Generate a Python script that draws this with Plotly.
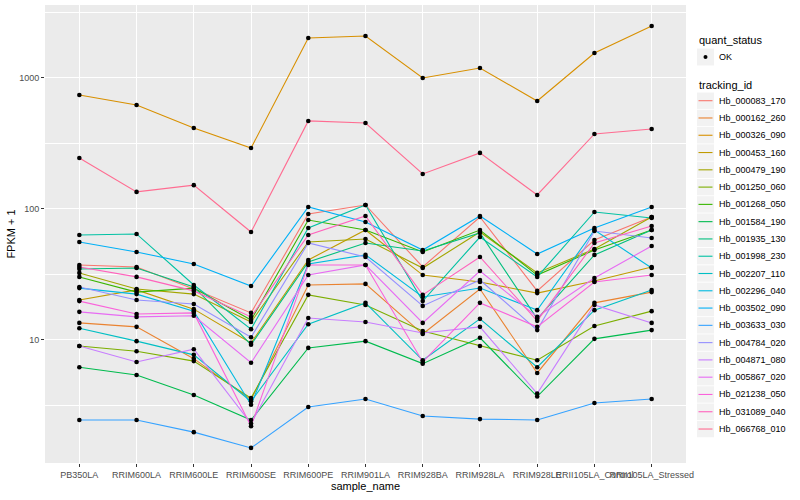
import plotly.graph_objects as go

samples = ["PB350LA", "RRIM600LA", "RRIM600LE", "RRIM600SE", "RRIM600PE",
           "RRIM901LA", "RRIM928BA", "RRIM928LA", "RRIM928LE",
           "RRII105LA_Control", "RRII105LA_Stressed"]

tracking_ids = ["Hb_000083_170", "Hb_000162_260", "Hb_000326_090", "Hb_000453_160",
                "Hb_000479_190", "Hb_001250_060", "Hb_001268_050", "Hb_001584_190",
                "Hb_001935_130", "Hb_001998_230", "Hb_002207_110", "Hb_002296_040",
                "Hb_003502_090", "Hb_003633_030", "Hb_004784_020", "Hb_004871_080",
                "Hb_005867_020", "Hb_021238_050", "Hb_031089_040", "Hb_066768_010"]

colors = ["#F8766D", "#EA8331", "#D89000", "#C09B00", "#A3A500", "#7CAE00",
          "#39B600", "#00BB4E", "#00BF7D", "#00C1A3", "#00BFC4", "#00BAE0",
          "#00B0F6", "#35A2FF", "#9590FF", "#C77CFF", "#E76BF3", "#FA62DB",
          "#FF62BC", "#FF6C91"]

# FPKM + 1 values, one list per tracking_id (order of samples)
hb_000083_170 = [37.4, 36.1, 24.5, 16.1, 91.6, 107.3, 36.1, 86.9, 23.7, 58.0, 86.9]
hb_000162_260 = [13.5, 12.6, 7.2, 3.5, 26.3, 26.8, 11.1, 24.5, 5.6, 19.2, 23.2]
hb_000326_090 = [741, 622, 415, 292, 2019, 2092, 1000, 1192, 667, 1552, 2495]
hb_000453_160 = [20.2, 24.1, 17.2, 9.5, 40.8, 69.1, 31.3, 27.7, 22.8, 28.2, 36.1]
hb_000479_190 = [32.5, 24.5, 22.4, 13.7, 56.0, 59.0, 35.4, 66.7, 32.5, 49.5, 86.9]
hb_001250_060 = [9.0, 8.2, 6.9, 3.6, 22.1, 18.5, 11.7, 9.0, 7.0, 12.8, 16.6]
hb_001268_050 = [30.3, 23.2, 24.9, 14.2, 82.4, 69.1, 47.0, 69.1, 31.3, 48.6, 69.1]
hb_001584_190 = [6.2, 5.4, 3.8, 2.45, 8.7, 9.8, 6.6, 10.4, 3.7, 10.2, 11.9]
hb_001935_130 = [34.8, 35.4, 25.4, 9.2, 39.4, 55.0, 47.8, 65.6, 14.5, 44.6, 69.1]
hb_001998_230 = [63.3, 64.5, 26.3, 12.1, 71.6, 107.3, 19.8, 61.1, 30.3, 94.9, 85.4]
hb_002207_110 = [12.3, 9.8, 7.7, 3.4, 13.2, 19.2, 7.0, 14.5, 6.2, 16.9, 24.1]
hb_002296_040 = [24.9, 22.4, 16.6, 3.2, 38.0, 44.6, 21.3, 24.9, 16.9, 69.1, 35.4]
hb_003502_090 = [56.0, 47.0, 38.0, 25.8, 103.6, 79.6, 48.6, 88.4, 45.3, 71.6, 103.6]
hb_003633_030 = [2.45, 2.45, 1.98, 1.50, 3.08, 3.54, 2.63, 2.49, 2.45, 3.30, 3.54]
hb_004784_020 = [25.4, 20.2, 18.8, 10.5, 55.0, 43.0, 18.2, 28.7, 11.9, 67.9, 60.1]
hb_004871_080 = [9.0, 6.8, 8.5, 2.3, 14.7, 13.7, 11.3, 12.6, 3.9, 18.5, 13.5]
hb_005867_020 = [16.4, 15.0, 15.3, 6.7, 31.3, 37.4, 13.5, 33.6, 15.0, 29.7, 52.2]
hb_021238_050 = [19.8, 15.8, 16.1, 2.2, 37.4, 37.4, 6.8, 19.2, 12.6, 27.7, 31.3]
hb_031089_040 = [36.1, 30.3, 23.7, 15.0, 63.3, 88.4, 22.1, 43.0, 14.0, 55.0, 74.2]
hb_066768_010 = [245, 135, 152, 66.7, 470, 453, 185, 268, 128, 374, 408]

series = [hb_000083_170, hb_000162_260, hb_000326_090, hb_000453_160, hb_000479_190,
          hb_001250_060, hb_001268_050, hb_001584_190, hb_001935_130, hb_001998_230,
          hb_002207_110, hb_002296_040, hb_003502_090, hb_003633_030, hb_004784_020,
          hb_004871_080, hb_005867_020, hb_021238_050, hb_031089_040, hb_066768_010]

y_ticks = [10, 100, 1000]
y_minor = [10 ** 0.5, 10 ** 1.5, 10 ** 2.5, 10 ** 3.5]

FONT = "Liberation Sans, Arial, sans-serif"

fig = go.Figure()
for name, vals, col in zip(tracking_ids, series, colors):
    fig.add_trace(go.Scatter(x=samples, y=vals, mode="lines", name=name,
                             line=dict(color=col, width=1.1), showlegend=False))
for name, vals in zip(tracking_ids, series):
    fig.add_trace(go.Scatter(x=samples, y=vals, mode="markers", name=name,
                             marker=dict(color="black", size=4.6), showlegend=False))

# panel geometry in pixels
L_PX, R_PX, T_PX, B_PX = 45, 686, 5, 463
W, H = 800, 500


def px(x):
    return (x - L_PX) / (R_PX - L_PX)


def py(y):
    return (B_PX - y) / (B_PX - T_PX)


shapes = []
annotations = []

# legend: quant_status
annotations.append(dict(text="quant_status", x=px(697), y=py(40.5), xref="paper", yref="paper",
                        xanchor="left", yanchor="middle", showarrow=False,
                        font=dict(family=FONT, size=11, color="black")))
shapes.append(dict(type="rect", xref="paper", yref="paper", x0=px(697), x1=px(714),
                   y0=py(48.5), y1=py(65.5), fillcolor="#F2F2F2", line=dict(width=0), layer="above"))
shapes.append(dict(type="circle", xref="paper", yref="paper", x0=px(703.5), x1=px(707.5),
                   y0=py(55), y1=py(59), fillcolor="black", line=dict(width=0), layer="above"))
annotations.append(dict(text="OK", x=px(716.5), y=py(57), xref="paper", yref="paper",
                        xanchor="left", yanchor="middle", showarrow=False,
                        font=dict(family=FONT, size=9, color="black")))

# legend: tracking_id
annotations.append(dict(text="tracking_id", x=px(697), y=py(84.5), xref="paper", yref="paper",
                        xanchor="left", yanchor="middle", showarrow=False,
                        font=dict(family=FONT, size=11, color="black")))
for i, (name, col) in enumerate(zip(tracking_ids, colors)):
    yc = 100.7 + i * 17.28
    shapes.append(dict(type="rect", xref="paper", yref="paper", x0=px(697), x1=px(714),
                       y0=py(yc - 8.2), y1=py(yc + 8.2), fillcolor="#F2F2F2",
                       line=dict(width=0), layer="above"))
    shapes.append(dict(type="line", xref="paper", yref="paper", x0=px(698.5), x1=px(712.5),
                       y0=py(yc), y1=py(yc), line=dict(color=col, width=1.1), layer="above"))
    annotations.append(dict(text=name, x=px(716.5), y=py(yc), xref="paper", yref="paper",
                            xanchor="left", yanchor="middle", showarrow=False,
                            font=dict(family=FONT, size=9, color="black")))

fig.update_layout(
    width=W, height=H,
    margin=dict(l=L_PX, r=W - R_PX, t=T_PX, b=H - B_PX, autoexpand=False),
    paper_bgcolor="white", plot_bgcolor="#EBEBEB",
    font=dict(family=FONT, size=9, color="#4D4D4D"),
    shapes=shapes, annotations=annotations,
    showlegend=False,
)
fig.update_xaxes(
    type="category", categoryorder="array", categoryarray=samples,
    range=[-0.6, len(samples) - 0.4],
    showgrid=True, gridcolor="white", gridwidth=1.1,
    ticks="outside", ticklen=3, tickcolor="#333333", tickwidth=1,
    tickangle=0, tickfont=dict(family=FONT, size=9, color="#4D4D4D"),
    showline=False, zeroline=False,
    title=dict(text="sample_name", font=dict(family=FONT, size=11, color="black"), standoff=3),
)
fig.update_yaxes(
    type="log", range=[0.061, 3.557],
    tickmode="array", tickvals=y_ticks, ticktext=[str(v) for v in y_ticks],
    showgrid=True, gridcolor="white", gridwidth=1.1,
    ticks="outside", ticklen=3, tickcolor="#333333", tickwidth=1,
    tickfont=dict(family=FONT, size=9, color="#4D4D4D"),
    minor=dict(tickmode="array", tickvals=y_minor, showgrid=True, gridcolor="white",
               gridwidth=0.55, ticks=""),
    showline=False, zeroline=False,
    title=dict(text="FPKM + 1", font=dict(family=FONT, size=11, color="black"), standoff=1),
)

fig.write_html("out.html", config={"displayModeBar": False},
               post_script="document.body.style.margin='0';")
